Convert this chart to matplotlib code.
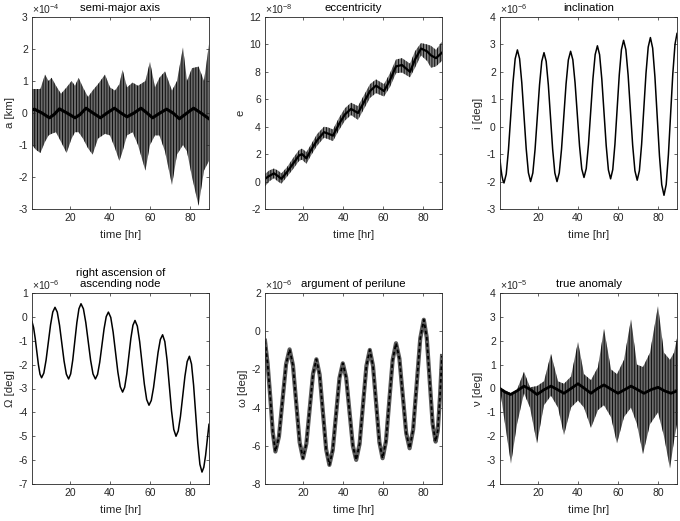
import matplotlib
matplotlib.use('Agg')
import matplotlib.pyplot as plt

plt.rcParams['font.family'] = ['Liberation Sans', 'DejaVu Sans']
plt.rcParams['mathtext.fontset'] = 'custom'
plt.rcParams['mathtext.rm'] = 'Liberation Sans'
plt.rcParams['mathtext.it'] = 'Liberation Sans:italic'
plt.rcParams['hatch.linewidth'] = 0.6

# ---------------- data ----------------
# semi-major axis, units of 1e-4 km: envelope of fast oscillation + mean
a_t = [1, 3, 5.2, 7.5, 9.3, 10.8, 13, 15.5, 18.3, 20.8, 22.5, 24.3, 26.5, 29, 31.3, 34, 37.5, 40,
       42.5, 44.7, 46.3, 48.5, 51.3, 54, 57.7, 60, 62.5, 64.7, 67.5, 71, 73.5, 76.5, 78.5, 81,
       84.3, 87, 89.5]
a_upper = [0.75, 0.75, 0.75, 1.2, 1.0, 1.1, 0.85, 0.6, 0.8, 1.0, 0.85, 1.1, 0.8, 0.5, 0.7, 0.9, 1.2, 0.8,
           0.7, 0.9, 1.35, 0.8, 0.95, 0.85, 1.0, 1.6, 0.8, 1.1, 1.3, 0.7, 1.0, 2.05, 1.0, 1.4,
           1.45, 1.0, 2.15]
a_lower = [-1.0, -1.15, -1.25, -0.9, -0.7, -0.65, -0.6, -0.9, -1.25, -0.8, -0.6, -0.6, -0.8, -1.1, -1.3, -0.8, -0.65, -0.7,
           -1.1, -1.5, -1.2, -0.7, -0.6, -1.0, -1.8, -1.0, -0.7, -0.7, -1.2, -2.25, -1.3, -1.0, -1.2, -2.0,
           -2.9, -1.8, -1.5]
a_mean_t = [1, 2.2, 6, 9.7, 12, 14.7, 18.5, 22.5, 25, 28, 31.5, 35.2, 38.5, 42.2, 45.5, 48.5, 52, 55.5,
            58.5, 61.3, 65, 68.3, 71.5, 74.7, 78.5, 81.8, 85.5, 89.5]
a_mean = [0.1, 0.12, 0.0, -0.15, -0.05, 0.13, 0.0, -0.15, -0.05, 0.15, 0.0, -0.15, 0.0, 0.15, 0.0, -0.12, 0.0, 0.15,
          0.0, -0.15, 0.0, 0.12, 0.0, -0.18, 0.0, 0.15, 0.0, -0.18]

# eccentricity, units of 1e-8
e_t = [1, 3, 5.5, 7.5, 9.2, 12, 15, 18, 19.5, 21.7, 24, 27, 30.5, 32.5, 35, 38, 41, 44, 47.5, 50.5,
       53.5, 56.5, 60.5, 63.5, 66.5, 69.5, 73.5, 76, 79, 82, 84, 86.5, 89.5]
e_mean = [0.2, 0.4, 0.6, 0.4, 0.2, 0.7, 1.3, 1.9, 2.0, 1.7, 2.3, 3.0, 3.6, 3.5, 3.35, 4.2, 4.9, 5.3, 5.0, 5.8,
          6.6, 7.0, 6.6, 7.4, 8.4, 8.5, 8.0, 8.9, 9.7, 9.5, 9.2, 9.0, 9.4]
e_upper = [0.55, 0.8, 0.95, 0.8, 0.6, 1.05, 1.7, 2.3, 2.4, 2.15, 2.7, 3.45, 4.0, 3.95, 3.8, 4.65, 5.35, 5.75, 5.5, 6.3,
           7.1, 7.45, 7.1, 7.9, 8.9, 9.0, 8.6, 9.5, 10.1, 10.0, 9.9, 9.6, 10.2]
e_lower = [-0.35, 0.0, 0.25, 0.0, -0.15, 0.35, 0.9, 1.5, 1.6, 1.3, 1.9, 2.6, 3.2, 3.1, 2.95, 3.75, 4.45, 4.85, 4.5, 5.3,
           6.1, 6.45, 6.2, 6.9, 7.9, 7.95, 7.6, 8.3, 9.2, 8.8, 8.3, 8.4, 8.8]

# inclination, units of 1e-6 deg
i_t = [1, 1.5, 2, 2.5, 3,
       4.117, 5.233, 6.35, 7.467, 8.583, 9.7,
       10.8, 11.9, 13.0, 14.1, 15.2, 16.3,
       17.417, 18.533, 19.65, 20.767, 21.883, 23.0,
       24.083, 25.167, 26.25, 27.333, 28.417, 29.5,
       30.633, 31.767, 32.9, 34.033, 35.167, 36.3,
       37.417, 38.533, 39.65, 40.767, 41.883, 43.0,
       44.117, 45.233, 46.35, 47.467, 48.583, 49.7,
       50.8, 51.9, 53.0, 54.1, 55.2, 56.3,
       57.383, 58.467, 59.55, 60.633, 61.717, 62.8,
       63.933, 65.067, 66.2, 67.333, 68.467, 69.6,
       70.7, 71.8, 72.9, 74.0, 75.1, 76.2,
       77.333, 78.467, 79.6, 80.733, 81.867, 83.0,
       84.1, 85.2, 86.3, 87.4, 88.5, 89.5]
i_val = [-1.2, -1.55, -1.8, -1.97, -2.05,
         -1.725, -0.838, 0.375, 1.588, 2.475, 2.8,
         2.478, 1.6, 0.4, -0.8, -1.678, -2.0,
         -1.685, -0.825, 0.35, 1.525, 2.385, 2.7,
         2.385, 1.525, 0.35, -0.825, -1.685, -2.0,
         -1.682, -0.813, 0.375, 1.563, 2.432, 2.75,
         2.442, 1.6, 0.45, -0.7, -1.542, -1.85,
         -1.528, -0.65, 0.55, 1.75, 2.628, 2.95,
         2.625, 1.738, 0.525, -0.688, -1.575, -1.9,
         -1.562, -0.638, 0.625, 1.888, 2.812, 3.15,
         2.808, 1.875, 0.6, -0.675, -1.608, -1.95,
         -1.602, -0.65, 0.65, 1.95, 2.902, 3.25,
         2.865, 1.813, 0.375, -1.063, -2.115, -2.5,
         -2.105, -1.025, 0.45, 1.925, 3.005, 3.4]

# right ascension of ascending node, units of 1e-6 deg
r_t = [1, 1.8, 2.6, 3.4, 4.2, 5.0, 5.8,
       6.917, 8.033, 9.15, 10.267, 11.383, 12.5,
       13.633, 14.767, 15.9, 17.033, 18.167, 19.3,
       20.333, 21.367, 22.4, 23.433, 24.467, 25.5,
       26.7, 27.9, 29.1, 30.3, 31.5, 32.7,
       33.783, 34.867, 35.95, 37.033, 38.117, 39.2,
       40.383, 41.567, 42.75, 43.933, 45.117, 46.3,
       47.333, 48.367, 49.4, 50.433, 51.467, 52.5,
       53.667, 54.833, 56.0, 57.167, 58.333, 59.5,
       60.633, 61.767, 62.9, 64.033, 65.167, 66.3,
       67.417, 68.533, 69.65, 70.767, 71.883, 73.0,
       74.117, 75.233, 76.35, 77.467, 78.583, 79.7,
       80.75, 81.8, 82.85, 83.9, 84.95, 86.0,
       86.9, 87.8, 88.7, 89.5]
r_val = [-0.2, -0.45, -0.9, -1.45, -2.0, -2.4, -2.55,
         -2.352, -1.813, -1.075, -0.338, 0.202, 0.4,
         0.199, -0.35, -1.1, -1.85, -2.399, -2.6,
         -2.389, -1.813, -1.025, -0.238, 0.339, 0.55,
         0.339, -0.238, -1.025, -1.813, -2.389, -2.6,
         -2.412, -1.9, -1.2, -0.5, 0.012, 0.2,
         -0.024, -0.638, -1.475, -2.313, -2.926, -3.15,
         -2.949, -2.4, -1.65, -0.9, -0.351, -0.15,
         -0.388, -1.038, -1.925, -2.813, -3.462, -3.7,
         -3.502, -2.963, -2.225, -1.488, -0.948, -0.75,
         -1.035, -1.813, -2.875, -3.938, -4.715, -5.0,
         -4.776, -4.163, -3.325, -2.488, -1.874, -1.65,
         -1.975, -2.863, -4.075, -5.288, -6.175, -6.5,
         -6.3, -5.8, -5.1, -4.5]

# argument of perilune, units of 1e-6 deg
w_t = [1, 2.3, 3.6, 4.9, 6.2, 7.975, 9.75, 11.525, 13.3, 14.975, 16.65, 18.325, 20.0,
       21.675, 23.35, 25.025, 26.7, 28.325, 29.95, 31.575, 33.2, 34.875, 36.55, 38.225, 39.9,
       41.575, 43.25, 44.925, 46.6, 48.3, 50.0, 51.7, 53.4, 55.0, 56.6, 58.2, 59.8,
       61.475, 63.15, 64.825, 66.5, 68.2, 69.9, 71.6, 73.3, 75.075, 76.85, 78.625, 80.4,
       81.875, 83.35, 84.825, 86.3, 87.4, 88.5, 89.5]
w_val = [-0.5, -1.7, -3.4, -5.3, -6.3, -5.52, -3.625, -1.73, -0.95, -1.78, -3.8, -5.82, -6.65,
         -5.89, -4.06, -2.23, -1.47, -2.28, -4.235, -6.19, -7.0, -6.22, -4.34, -2.46, -1.68,
         -2.42, -4.21, -6.0, -6.74, -5.9, -3.86, -1.82, -0.98, -1.81, -3.815, -5.82, -6.65,
         -5.77, -3.64, -1.51, -0.63, -1.43, -3.38, -5.33, -6.13, -5.15, -2.765, -0.38, 0.6,
         -0.33, -2.59, -4.85, -5.78, -5.2, -3.4, -1.3]

# true anomaly, units of 1e-5 deg
n_t = [1, 3, 6.5, 9.5, 13, 16, 19.5, 23, 26.5, 30, 33, 36.5, 40, 43, 46.5, 50, 53, 56.5, 59.5, 63,
       66.5, 69.5, 72.5, 76, 80, 83, 86, 88, 89.5]
n_upper = [0, -0.05, -0.2, -0.05, 0.7, 0.05, 0.1, 0.3, 1.45, 0.3, 0.2, 0.5, 1.95, 0.6, 0.35, 0.9, 2.5, 0.8, 0.6, 1.2,
           2.9, 1.0, 0.9, 1.5, 3.45, 1.5, 1.2, 1.5, 2.1]
n_lower = [0, -1.2, -3.15, -1.5, -0.2, -0.8, -2.3, -0.7, -0.3, -0.8, -1.95, -0.8, -0.5, -0.8, -1.65, -0.9, -0.7, -1.2, -2.3, -1.2,
           -0.8, -1.5, -2.75, -1.5, -1.0, -2.0, -3.35, -2.2, -1.5]
n_mean_t = [1, 3.5, 6.3, 9.5, 13, 16.3, 19.5, 23, 26.5, 29.8, 33, 36.5, 40, 43.3, 46.5, 49.8, 53, 56.5, 60, 63.3,
            66.5, 69.8, 73, 76.5, 80, 83.3, 86.5, 89.5]
n_mean = [0, -0.15, -0.25, -0.1, 0.1, -0.05, -0.25, -0.05, 0.1, -0.05, -0.2, 0.0, 0.2, 0.0, -0.2, 0.0, 0.15, -0.03, -0.2, -0.05,
          0.1, -0.05, -0.2, -0.05, 0.05, -0.1, -0.2, -0.1]

x_ticks = [20, 40, 60, 80]

# ---------------- figure ----------------
W, H = 680, 521
fig = plt.figure(figsize=(W / 100, H / 100), dpi=100)
TXT = '0.15'


def add_ax(x0, y0, x1, y1):
    return fig.add_axes([x0 / W, 1 - y1 / H, (x1 - x0) / W, (y1 - y0) / H])


def style(ax, ylim, yticks, ylabel, title, expo):
    ax.set_xlim(1, 89.5)
    ax.set_ylim(*ylim)
    ax.set_xticks(x_ticks)
    ax.set_yticks(yticks)
    ax.set_yticklabels([str(v) for v in yticks])
    ax.tick_params(direction='in', length=2.5, width=0.5, colors=TXT, labelsize=7.5,
                   top=True, right=True, pad=3)
    for s in ax.spines.values():
        s.set_color(TXT)
        s.set_linewidth(0.6)
    ax.set_xlabel('time [hr]', fontsize=8.2, color=TXT, labelpad=5)
    ax.set_ylabel(ylabel, fontsize=8.2, color=TXT, labelpad=2.5)
    ax.set_title(title, fontsize=8.2, color='black', pad=4)
    ax.text(0, 1.003, r'$\times$10$^{%s}$' % expo, transform=ax.transAxes, ha='left', va='bottom',
            fontsize=7.5, color=TXT)


def band(ax, t, lo, hi, face='0.42'):
    ax.fill_between(t, lo, hi, facecolor=face, edgecolor='black', hatch='||||||', linewidth=0)


# semi-major axis
ax1 = add_ax(32, 17, 209, 209)
band(ax1, a_t, a_lower, a_upper)
ax1.plot(a_mean_t, a_mean, color='black', lw=2.2)
style(ax1, (-3, 3), [-3, -2, -1, 0, 1, 2, 3], 'a [km]', 'semi-major axis', '-4')

# eccentricity
ax2 = add_ax(265, 17, 442, 209)
band(ax2, e_t, e_lower, e_upper, face='0.5')
ax2.plot(e_t, e_mean, color='black', lw=1.6)
style(ax2, (-2, 12), [-2, 0, 2, 4, 6, 8, 10, 12], 'e', 'eccentricity', '-8')

# inclination
ax3 = add_ax(500, 17, 677, 209)
ax3.plot(i_t, i_val, color='black', lw=1.1)
style(ax3, (-3, 4), [-3, -2, -1, 0, 1, 2, 3, 4], 'i [deg]', 'inclination', '-6')

# RAAN
ax4 = add_ax(32, 293, 209, 484)
ax4.plot(r_t, r_val, color='black', lw=1.1)
style(ax4, (-7, 1), [-7, -6, -5, -4, -3, -2, -1, 0, 1], '\u03a9 [deg]',
      'right ascension of\nascending node', '-6')

# argument of perilune
ax5 = add_ax(265, 293, 442, 484)
ax5.plot(w_t, w_val, color='0.35', lw=3.0)
ax5.plot(w_t, w_val, color='black', lw=1.3, dashes=(2, 1.5))
style(ax5, (-8, 2), [-8, -6, -4, -2, 0, 2], '\u03c9 [deg]', 'argument of perilune', '-6')

# true anomaly
ax6 = add_ax(500, 293, 677, 484)
band(ax6, n_t, n_lower, n_upper)
ax6.plot(n_mean_t, n_mean, color='black', lw=2.0)
style(ax6, (-4, 4), [-4, -3, -2, -1, 0, 1, 2, 3, 4], '\u03bd [deg]', 'true anomaly', '-5')

fig.savefig('out.png', dpi=100)
